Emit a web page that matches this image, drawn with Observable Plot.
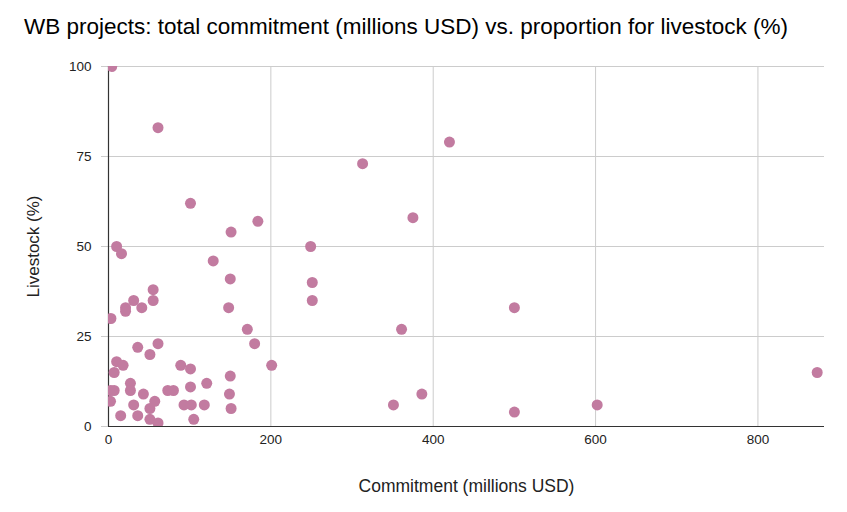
<!DOCTYPE html>
<html>
<head>
<meta charset="utf-8">
<script src="https://cdn.jsdelivr.net/npm/d3@7"></script>
<script src="https://cdn.jsdelivr.net/npm/@observablehq/plot@0.6"></script>
<style>
  html, body { margin: 0; padding: 0; background: #fff; }
  #wrap { position: relative; width: 847px; height: 512px; font-family: "Liberation Sans", Arial, sans-serif; }
  #title { position: absolute; left: 24px; top: 14px; font-size: 22.5px; color: #000; white-space: nowrap; }
  #chart { position: absolute; left: 0; top: 0; }
</style>
</head>
<body>
<div id="wrap">
  <div id="chart"></div>
  <div id="title">WB projects: total commitment (millions USD) vs. proportion for livestock (%)</div>
</div>
<script>
const commitment = [4, 61, 101, 151, 184, 10, 16, 129, 150, 55, 31, 55, 21, 41, 21, 148, 3, 171, 180, 36, 61, 51, 201, 10, 18, 7, 89, 101, 27, 121, 150, 3, 7, 27, 43, 73, 80, 101, 149, 2.5, 31, 57, 51, 93, 102, 118, 151, 15, 36, 51, 61, 105, 420, 313, 375, 249, 251, 251, 361, 500, 386, 351, 500, 602, 873];
const livestock  = [100, 83, 62, 54, 57, 50, 48, 46, 41, 38, 35, 35, 33, 33, 32, 33, 30, 27, 23, 22, 23, 20, 17, 18, 17, 15, 17, 16, 12, 12, 14, 10, 10, 10, 9, 10, 10, 11, 9, 7, 6, 7, 5, 6, 6, 6, 5, 3, 3, 2, 1, 2, 79, 73, 58, 50, 40, 35, 27, 33, 9, 6, 4, 6, 15];
const xTicks = [0, 200, 400, 600, 800];
const yTicks = [0, 25, 50, 75, 100];
const xLabel = "Commitment (millions USD)";
const yLabel = "Livestock (%)";

const data = commitment.map((c, i) => ({c, l: livestock[i]}));

const chart = Plot.plot({
  width: 847,
  height: 512,
  marginTop: 66,
  marginBottom: 86,
  marginLeft: 108,
  marginRight: 23,
  style: {fontFamily: "Liberation Sans, Arial, sans-serif", fontSize: "13.5px", background: "#fff"},
  x: {domain: [0, 882]},
  y: {domain: [0, 100]},
  marks: [
    Plot.ruleX(xTicks.filter(d => d > 0), {stroke: "#cccccc", strokeWidth: 1}),
    Plot.ruleY(yTicks.filter(d => d > 0), {stroke: "#cccccc", strokeWidth: 1}),
    Plot.axisY({ticks: yTicks, tickSize: 7, stroke: "#cccccc", tickPadding: 10, fill: "#222", fontSize: 13.5, label: null}),
    Plot.axisX({ticks: xTicks, tickSize: 0, tickPadding: 8, fill: "#222", fontSize: 13.5, label: null}),
    Plot.ruleX([0], {stroke: "#333", strokeWidth: 1.2}),
    Plot.ruleY([0], {stroke: "#333", strokeWidth: 1.2}),
    Plot.dot(data, {x: "c", y: "l", r: 5.5, fill: "#c27ba0", fillOpacity: 1, stroke: "none", clip: true}),
    Plot.text([xLabel], {frameAnchor: "bottom", dy: 65, fontSize: 17.5, fill: "#222", textAnchor: "middle", text: d => d}),
    Plot.text([yLabel], {frameAnchor: "left", dx: -75, rotate: -90, fontSize: 17, fill: "#222", textAnchor: "middle", text: d => d})
  ]
});
document.getElementById("chart").appendChild(chart);
</script>
</body>
</html>
